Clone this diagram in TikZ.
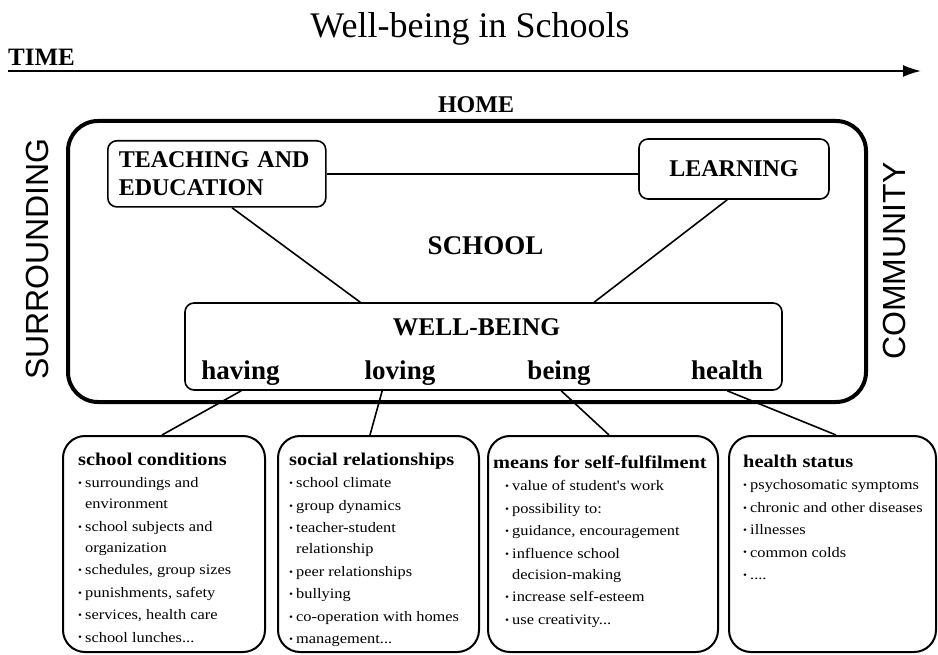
\documentclass[tikz,border=0pt]{standalone}
\usepackage{fontspec}
\setmainfont{Liberation Serif}
\setsansfont{Liberation Sans}
\newfontfamily\listfont{Liberation Serif}[FakeStretch=1.13]
\usepackage{tikz}
\usetikzlibrary{arrows.meta}

% bullet lists in the four lower boxes
\newlength{\bulw}\setlength{\bulw}{7pt}
\newlength{\itmind}\setlength{\itmind}{0pt}
\newcommand{\itm}[1]{\par\vspace{1.5pt}\noindent\hspace*{\itmind}\makebox[\bulw][l]{\raisebox{1pt}{\fontsize{10}{10}\selectfont\textbullet}}#1}
\newcommand{\cont}{\\\hspace*{\dimexpr\itmind+\bulw\relax}}
\newcommand{\listtitle}[1]{{\fontsize{18}{21}\selectfont\bfseries #1\par}}

\begin{document}
\begin{tikzpicture}[x=1pt, y=-1pt,
            outerbox/.style={draw, line width=4pt, rounded corners=30pt, inner sep=0pt}, % frame of the school
            innerbox/.style={draw, line width=1.6pt, rounded corners=9pt, font=\fontsize{24}{28}\selectfont\bfseries}, % boxes inside the school
            listbox/.style={draw, line width=2pt, rounded corners=22pt, anchor=north west, inner sep=0pt, minimum height=216pt}, % lower boxes
            listtext/.style={anchor=base west, inner sep=0pt, font=\listfont\fontsize{14.5}{21}\selectfont},
            dimlabel/.style={anchor=base, inner sep=0pt, font=\fontsize{27}{30}\selectfont\bfseries}, % having, loving, being, health
            sidelabel/.style={anchor=base, rotate=90, inner sep=0pt, font=\sffamily\fontsize{32}{36}\selectfont},
            link/.style={line width=1.6pt}
            ]
    \useasboundingbox (0,0) rectangle (938,655);

    % title and time axis
    \node[anchor=base, inner sep=0pt, font=\fontsize{36}{40}\selectfont] (title) at (470,38) {Well-being in Schools};
    \node[anchor=base west, inner sep=0pt, font=\fontsize{25}{28}\selectfont\bfseries] (time) at (8,66) {TIME};
    \coordinate (tstart) at (8,71);
    \coordinate (tend) at (921,71);
    \draw[line width=1.8pt, -{Latex[length=18pt,width=12pt]}] (tstart) -- (tend);

    % the school and its surroundings
    \node[anchor=base, inner sep=0pt, font=\fontsize{24}{28}\selectfont\bfseries] (home) at (476,113) {HOME};
    \node[outerbox, minimum width=798pt, minimum height=281pt] (school) at (467,261.5) {};
    \node[sidelabel] (surr) at (48,259) {SURROUNDING};
    \node[sidelabel] (comm) at (905,261) {COMMUNITY};
    \node[anchor=base, inner sep=0pt, font=\fontsize{27}{30}\selectfont\bfseries] (schoollbl) at (485.5,255) {SCHOOL};

    \node[innerbox, anchor=north west, text width=196pt, align=left, inner xsep=11pt, inner ysep=11pt] (teach) at (107,140) {TEACHING AND\\EDUCATION};
    \node[innerbox, minimum width=190pt, minimum height=60pt] (learn) at (734,169) {LEARNING};
    \node[innerbox, minimum width=597pt, minimum height=87pt] (wb) at (483.5,346.5) {};
    \node[anchor=base, inner sep=0pt, font=\fontsize{25.5}{28}\selectfont\bfseries] (wblbl) at (476.5,335) {WELL-BEING};
    \node[dimlabel] (having) at (240.5,379) {having};
    \node[dimlabel] (loving) at (400,379) {loving};
    \node[dimlabel] (being) at (559,379) {being};
    \node[dimlabel] (health) at (727,379) {health};

    \draw[link] (teach.east) -- (teach.east -| learn.west);
    \draw[link] ([xshift=125pt]teach.south west) -- ([xshift=176pt]wb.north west);
    \draw[link] ([xshift=89pt]learn.south west) -- ([xshift=410pt]wb.north west);

    % lower boxes
    \node[listbox, minimum width=202pt] (condbox) at (62,435) {};
    \node[listbox, minimum width=201pt] (relbox) at (277,435) {};
    \node[listbox, minimum width=230pt] (fulfilbox) at (487,435) {};
    \node[listbox, minimum width=207pt] (healthbox) at (728,435) {};

    \node[listtext] (condtext) at (78,465) {\parbox[t]{185pt}{\raggedright
        \listtitle{school conditions}
        \itm{surroundings and\cont environment}
        \itm{school subjects and\cont organization}
        \itm{schedules, group sizes}
        \itm{punishments, safety}
        \itm{services, health care}
        \itm{school lunches...}}};
    \node[listtext] (reltext) at (289,465) {\parbox[t]{185pt}{\raggedright
        \listtitle{social relationships}
        \itm{school climate}
        \itm{group dynamics}
        \itm{teacher-student\cont relationship}
        \itm{peer relationships}
        \itm{bullying}
        \itm{co-operation with homes}
        \itm{management...}}};
    \node[listtext] (fulfiltext) at (493,468) {\parbox[t]{225pt}{\raggedright\setlength{\itmind}{12pt}%
        \listtitle{means for self-fulfilment}
        \itm{value of student's work}
        \itm{possibility to:}
        \itm{guidance, encouragement}
        \itm{influence school\cont decision-making}
        \itm{increase self-esteem}
        \itm{use creativity...}}};
    \node[listtext] (healthtext) at (743,467) {\parbox[t]{190pt}{\raggedright
        \listtitle{health status}
        \itm{psychosomatic symptoms}
        \itm{chronic and other diseases}
        \itm{illnesses}
        \itm{common colds}
        \itm{....}}};

    \draw[link] ([xshift=57pt]wb.south west) -- ([xshift=100pt]condbox.north west);
    \draw[link] ([xshift=198pt]wb.south west) -- ([xshift=93pt]relbox.north west);
    \draw[link] ([xshift=377pt]wb.south west) -- ([xshift=122pt]fulfilbox.north west);
    \draw[link] ([xshift=543pt]wb.south west) -- ([xshift=108pt]healthbox.north west);

\end{tikzpicture}
\end{document}
